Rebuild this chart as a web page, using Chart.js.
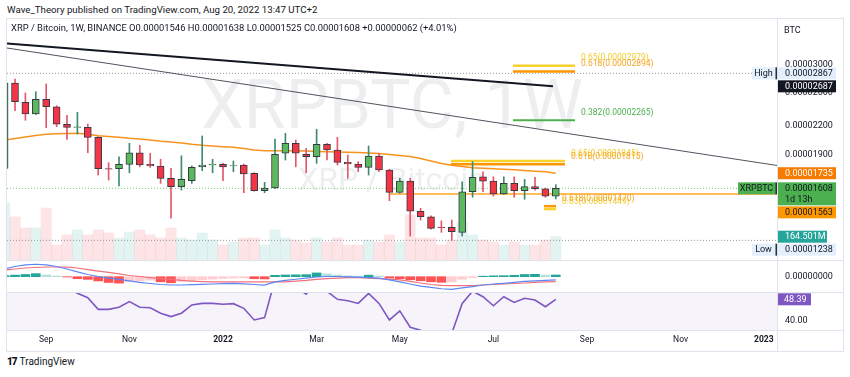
<!DOCTYPE html>
<html><head><meta charset="utf-8">
<script src="https://cdn.jsdelivr.net/npm/chart.js@4.4.1/dist/chart.umd.min.js"></script>
<style>
html,body{margin:0;padding:0;background:#fff;}
body{width:850px;height:377px;position:relative;overflow:hidden;font-family:Roboto,"Liberation Sans",Arial,sans-serif;color:#131722;}
canvas{position:absolute;}
.ln{position:absolute;background:#e0e3eb;z-index:5;}
#pub{position:absolute;left:7px;top:4px;font-size:9.7px;white-space:nowrap;}
#title{position:absolute;left:11px;top:22px;font-size:9.4px;white-space:nowrap;z-index:6;}
#btc{position:absolute;left:784px;top:25px;font-size:9px;}
#logo{position:absolute;left:7px;top:356px;font-size:10px;white-space:nowrap;}
#logo b{font-weight:900;letter-spacing:-1px;margin-right:3px;}
</style></head><body>
<div id="pub">Wave_Theory published on TradingView.com, Aug 20, 2022 13:47 UTC+2</div>
<canvas id="main" width="836" height="242" style="left:7px;top:18px"></canvas>
<canvas id="macd" width="836" height="32" style="left:7px;top:260px"></canvas>
<canvas id="rsi" width="836" height="59" style="left:7px;top:292px"></canvas>
<div id="title"></div>
<div id="btc">BTC</div>
<div class="ln" style="left:6px;top:18px;width:838px;height:1px"></div>
<div class="ln" style="left:6px;top:351px;width:838px;height:1px"></div>
<div class="ln" style="left:6px;top:18px;width:1px;height:334px"></div>
<div class="ln" style="left:843px;top:18px;width:1px;height:334px"></div>
<div class="ln" style="left:777px;top:18px;width:1px;height:334px"></div>
<div class="ln" style="left:7px;top:260px;width:836px;height:1px"></div>
<div class="ln" style="left:7px;top:292px;width:836px;height:1px"></div>
<div class="ln" style="left:7px;top:330px;width:836px;height:1px"></div>
<div id="logo"><b>17</b>TradingView</div>
<script>
// Weekly XRP/BTC candles, first bar = week of 2021-08-09; prices in satoshi (1e-8 BTC)
const open  = [1778,2731,2478,2337,2516,2424,2219,2185,2185,2078,1775,1775,1814,1923,1814,1799,1691,1622,1671,1792,1809,1814,1799,1808,1734,1589,1611,1918,2016,1908,1885,2006,1950,1833,1817,1787,1892,1763,1576,1668,1433,1394,1322,1322,1289,1581,1704,1668,1563,1649,1589,1622,1605,1546];
const high  = [2867,2786,2596,2614,2718,2436,2322,2357,2222,2085,1829,1885,2016,1996,1918,1861,1778,1894,1800,2092,1861,1823,1845,1817,1740,1657,2061,2120,2050,1966,2164,2016,2078,1901,1838,1989,1918,1770,1691,1691,1455,1400,1366,1371,1662,1838,1748,1704,1704,1704,1682,1699,1610,1638];
const low   = [1760,2376,2264,2330,2181,2192,2057,2113,1923,1719,1676,1627,1739,1792,1787,1649,1384,1594,1649,1757,1739,1671,1748,1573,1585,1573,1605,1854,1792,1739,1823,1854,1808,1691,1748,1719,1748,1511,1570,1265,1371,1310,1289,1238,1265,1537,1581,1547,1560,1537,1522,1594,1537,1525];
const close = [2731,2486,2337,2516,2424,2219,2185,2190,2078,1775,1770,1814,1923,1808,1799,1691,1622,1682,1787,1808,1814,1792,1802,1730,1589,1611,1908,2016,1918,1885,2006,1950,1833,1817,1787,1892,1763,1576,1668,1433,1394,1315,1320,1293,1581,1699,1668,1563,1649,1589,1622,1605,1546,1608];
const volume = [402,304,226,226,367,106,177,212,177,212,191,155,198,212,177,155,226,155,141,191,141,106,127,155,155,106,212,155,141,120,155,127,155,106,106,141,127,177,127,318,155,155,106,141,268,177,141,127,106,127,106,106,141,164.501]; // millions
const ema = [2050,2066,2081,2097,2110,2116,2119,2120,2110,2094,2086,2078,2068,2061,2050,2037,2030,2020,2006,1996,1989,1982,1976,1964,1950,1943,1943,1943,1942,1940,1936,1934,1931,1929,1926,1921,1916,1907,1896,1887,1869,1845,1822,1805,1794,1784,1778,1774,1769,1765,1760,1753,1747,1735];
const macd = [45,60,69,73,69,60,45,28,13,1,-8,-16,-25,-34,-40,-46,-49,-49,-47,-45,-43,-41,-39,-42,-46,-49,-31,-22,-15,-8,-2,1,1,-1,-3,-5,-9,-19,-31,-43,-55,-63,-71,-74,-66,-58,-49,-43,-39,-34,-28,-25,-22,-19];
const signal = [39,45,51,54,57,57,56,51,42,33,25,16,7,1,-5,-11,-16,-22,-26,-29,-31,-31,-31,-31,-31,-31,-31,-31,-26,-22,-16,-12,-8,-6,-6,-8,-11,-14,-19,-28,-37,-46,-51,-53,-53,-52,-49,-46,-43,-40,-37,-34,-31,-29];
const hist = [6,9,13,18,10,4,-2,-12,-16,-25,-34,-38,-30,-26,-20,-30,-36,-28,-22,-18,-14,-11,-8,-7,-12,-13,8,10,11,12,22,16,10,5,3,9,4,-8,-12,-18,-24,-30,-33,-30,-15,-6,3,5,6,8,13,14,9,10];
const rsi = [66,60,56,58,55,54,53,50.7,49.0,44.5,44.5,45.3,47.5,45.3,45.1,43.0,41.7,43.0,46.2,46.8,46.8,46.5,46.7,44.9,40.4,41.3,56,60,53,50.4,56,51.5,48.4,47.8,46.8,50.7,46.8,40.4,43.9,37.6,36.4,33,34,35.2,46.8,51.5,49.4,45.9,49.4,47.2,48.8,48.1,45.5,48.39];

const xTickWeeks  = [4,12,21,30,38,47,56,65,73];
const xTickLabels = ['Sep','Nov','2022','Mar','May','Jul','Sep','Nov','2023'];
const yTickValues = [3000,2600,2200,1900,1400];

// drawings (x = bar index, y = price in sat)
const trendBlack = [[0.23,3331],[52.73,2687]];
const trendThin  = [[0.23,3256],[74.27,1804]];
const fibTopSpan = [48.88,54.85], fibTopLevels = [2979,2894,2265], fibTopRatios = ['0.65','0.618','0.382'];
const fibMidSpan = [42.92,53.88], fibMidLevels = [1845,1815], fibMidRatios = ['0.65','0.618'];
const fibLowSpan = [51.87,53.02], fibLowLevels = [1449,1470], fibLowRatios = ['0.65','0.618'];
const supportLevel = 1563, supportStart = 37.06;
const highLevel = 2867, lowLevel = 1238;

const FONT = 'Roboto, "Liberation Sans", Arial, sans-serif';
const xMin = 0.2308, xMax = 74.269;
const yMin = 1121.6, yMax = 3786.3, volMax = 1708;
const fmt = v => (v/1e8).toFixed(8);
const N = open.length;
const up = close.map((c,i)=> c >= open[i]);
const fibColor = r => r==='0.65' ? '#f9d22b' : r==='0.618' ? '#ff9800' : '#4caf50';
const fibText  = r => r==='0.65' ? '#f3cc2f' : r==='0.618' ? '#f5a524' : '#4caf50';

const last = N-1;
const chg = close[last]-close[last-1];
document.getElementById('title').textContent =
  `XRP / Bitcoin, 1W, BINANCE O${fmt(open[last])} H${fmt(high[last])} L${fmt(low[last])} C${fmt(close[last])} +${fmt(chg)} (+${(chg/close[last-1]*100).toFixed(2)}%)`;

const seg = (pts, color, width, dash, order) => ({type:'line', data: pts.map(p=>({x:p[0],y:p[1]})), borderColor:color, borderWidth:width, borderDash:dash||[], pointRadius:0, order: order||8});

const fibSets = [];
[[fibTopSpan,fibTopLevels,fibTopRatios],[fibMidSpan,fibMidLevels,fibMidRatios],[fibLowSpan,fibLowLevels,fibLowRatios]].forEach(([sp,lv,rt])=>{
  lv.forEach((l,k)=> fibSets.push(seg([[sp[0],l],[sp[1],l]], fibColor(rt[k]), rt[k]==='0.382'?2:2.5, null, 3)));
});

function box(ctx,x,y,w,h,bg){ctx.fillStyle=bg;ctx.fillRect(x,y,w,h);}

const mainOverlay = {
  id:'mainOverlay',
  beforeDatasetsDraw(chart){
    const {ctx, chartArea:a} = chart;
    ctx.save();
    ctx.fillStyle='rgba(19,23,34,0.075)';
    ctx.textAlign='center'; ctx.textBaseline='alphabetic';
    ctx.font=`68px ${FONT}`;
    ctx.fillText('XRPBTC, 1W',(a.left+a.right)/2,110);
    ctx.font=`32px ${FONT}`;
    ctx.fillText('XRP / Bitcoin',(a.left+a.right)/2,172);
    ctx.restore();
  },
  afterDatasetsDraw(chart){
    const {ctx, scales:{x:xs,y:ys}} = chart;
    ctx.save();
    ctx.font=`8.5px ${FONT}`; ctx.textAlign='left'; ctx.textBaseline='middle';
    [[fibTopSpan,fibTopLevels,fibTopRatios],[fibMidSpan,fibMidLevels,fibMidRatios],[fibLowSpan,fibLowLevels,fibLowRatios]].forEach(([sp,lv,rt])=>{
      lv.forEach((l,k)=>{
        ctx.fillStyle=fibText(rt[k]);
        ctx.fillText(`${rt[k]}(${fmt(l)})`, xs.getPixelForValue(sp[1])+6, ys.getPixelForValue(l)-7.5);
      });
    });
    ctx.restore();
  },
  afterDraw(chart){
    const {ctx, chartArea:a, scales:{y:ys, vol:vs}} = chart;
    const ax = a.right;
    ctx.save();
    ctx.font=`9px ${FONT}`; ctx.textAlign='left'; ctx.textBaseline='middle';
    ctx.fillStyle='#131722';
    yTickValues.forEach(v=> ctx.fillText(fmt(v), ax+8, ys.getPixelForValue(v)));
    const labels = [
      {y:ys.getPixelForValue(highLevel), lines:[fmt(highLevel)], bg:'#e3effd', fg:'#131722', tag:'High', tagW:25},
      {y:ys.getPixelForValue(trendBlack[1][1]), lines:[fmt(trendBlack[1][1])], bg:'#131722', fg:'#ffffff'},
      {y:ys.getPixelForValue(ema[last]), lines:[fmt(ema[last])], bg:'#f57c00', fg:'#ffffff'},
      {y:ys.getPixelForValue(close[last]), lines:[fmt(close[last]),'1d 13h'], bg:'#4caf50', fg:'#131722', tag:'XRPBTC', tagW:39},
      {y:ys.getPixelForValue(supportLevel), lines:[fmt(supportLevel)], bg:'#ff9800', fg:'#131722'},
      {y:ys.getPixelForValue(lowLevel), lines:[fmt(lowLevel)], bg:'#e3effd', fg:'#131722', tag:'Low', tagW:25},
      {y:vs.getPixelForValue(volume[last]), lines:[volume[last].toFixed(3)+'M'], bg:'#26a69a', fg:'#ffffff', w:49},
    ].sort((p,q)=>p.y-q.y);
    let prev=-1e9;
    labels.forEach(l=>{
      const h = l.lines.length===1 ? 12 : 23;
      const top = Math.max(l.y-6, prev+1);
      box(ctx, ax+1, top, l.w||58, h, l.bg);
      ctx.fillStyle=l.fg;
      l.lines.forEach((t,k)=>ctx.fillText(t, ax+8, top+6.5+k*10.5));
      if(l.tag){
        box(ctx, ax-l.tagW, top, l.tagW-1, 12, l.bg);
        box(ctx, ax-1.5, top, 1.5, 12, '#2a2e39');
        ctx.fillStyle=l.fg; ctx.textAlign='center';
        ctx.fillText(l.tag, ax-l.tagW/2-1, top+6.5);
        ctx.textAlign='left';
      }
      prev = top+h;
    });
    ctx.restore();
  }
};

new Chart(document.getElementById('main'), {
  type:'bar',
  data:{datasets:[
    {type:'bar', yAxisID:'vol', data: volume.map((v,i)=>({x:i,y:v})), backgroundColor: up.map(u=>u?'rgba(38,166,154,0.13)':'rgba(242,54,69,0.13)'), barThickness:10.4, grouped:false, order:20},
    {type:'line', data: ema.map((v,i)=>({x:i,y:v})), borderColor:'#f7931e', borderWidth:1.5, pointRadius:0, order:9},
    seg([[xMin,highLevel],[xMax,highLevel]], '#9598a1', 1, [1,2], 10),
    seg([[xMin,lowLevel],[xMax,lowLevel]], '#9598a1', 1, [1,2], 10),
    seg([[xMin,close[last]],[xMax,close[last]]], '#81c784', 1, [1,2], 10),
    seg([[supportStart,supportLevel],[xMax,supportLevel]], '#ffa726', 1.5, null, 7),
    seg(trendBlack, '#131722', 2, null, 6),
    seg(trendThin, '#50535e', 1, null, 6),
    ...fibSets,
    {type:'bar', data: low.map((l,i)=>({x:i,y:[l,high[i]]})), backgroundColor: up.map(u=>u?'#3e8a6e':'#e4576a'), barThickness:1, grouped:false, order:2},
    {type:'bar', data: open.map((o,i)=>({x:i,y:[o,close[i]]})), backgroundColor: up.map(u=>u?'#5cb85f':'#f23645'), borderColor:'#363a45', borderWidth:1, borderSkipped:false, barThickness:7, grouped:false, order:1},
  ]},
  options:{
    responsive:false, animation:false, devicePixelRatio:1, events:[],
    layout:{padding:{left:0,right:66,top:0,bottom:0}},
    plugins:{legend:{display:false}, tooltip:{enabled:false}},
    scales:{
      x:{type:'linear', min:xMin, max:xMax, offset:false, display:false},
      y:{type:'logarithmic', min:yMin, max:yMax, display:false},
      vol:{type:'linear', min:0, max:volMax, display:false}
    }
  },
  plugins:[mainOverlay]
});

const histColors = hist.map((v,i)=>{
  const p = i>0 ? hist[i-1] : v;
  if (v>=0) return v>=p ? '#26a69a' : '#b2dfdb';
  return v<=p ? '#ff5252' : '#ffcdd2';
});
new Chart(document.getElementById('macd'), {
  type:'bar',
  data:{datasets:[
    {type:'bar', data: hist.map((v,i)=>({x:i,y:v})), backgroundColor: histColors, barThickness:9, grouped:false, order:3},
    {type:'line', data: macd.map((v,i)=>({x:i,y:v})), borderColor:'#5b86f5', borderWidth:1.2, pointRadius:0, order:1},
    {type:'line', data: signal.map((v,i)=>({x:i,y:v})), borderColor:'#f2707a', borderWidth:1.2, pointRadius:0, order:2},
  ]},
  options:{
    responsive:false, animation:false, devicePixelRatio:1, events:[],
    layout:{padding:{left:0,right:66,top:0,bottom:0}},
    plugins:{legend:{display:false}, tooltip:{enabled:false}},
    scales:{ x:{type:'linear', min:xMin, max:xMax, offset:false, display:false}, y:{type:'linear', min:-90, max:98, display:false} }
  },
  plugins:[{id:'macdAxis', afterDraw(chart){
    const {ctx, chartArea:a, scales:{y}} = chart;
    ctx.save(); ctx.font=`9px ${FONT}`; ctx.textBaseline='middle'; ctx.fillStyle='#131722';
    ctx.fillText(fmt(0), a.right+8, y.getPixelForValue(0)); ctx.restore();
  }}]
});

new Chart(document.getElementById('rsi'), {
  type:'line',
  data:{datasets:[
    {data: rsi.map((v,i)=>({x:i,y:v})), borderColor:'#7e57c2', borderWidth:1.6, pointRadius:0}
  ]},
  options:{
    responsive:false, animation:false, devicePixelRatio:1, events:[],
    layout:{padding:{left:0,right:66,top:0,bottom:0}},
    plugins:{legend:{display:false}, tooltip:{enabled:false}},
    scales:{
      x:{type:'linear', min:xMin, max:xMax, offset:false, position:'bottom',
         grid:{display:false, drawTicks:false}, border:{display:false},
         afterBuildTicks: s => { s.ticks = xTickWeeks.map(v=>({value:v})); },
         afterFit: s => { s.height = 21; },
         ticks:{autoSkip:false, maxRotation:0, padding:5, color:'#131722',
           font: c => ({family:FONT, size:8.5, weight: /^\d{4}$/.test(xTickLabels[c.index]||'') ? 'bold':'normal'}),
           callback: (v,i) => xTickLabels[i]}},
      y:{type:'linear', min:36.52, max:51.21, display:false}
    }
  },
  plugins:[{id:'rsiDeco',
    beforeDatasetsDraw(chart){
      const {ctx, chartArea:a, scales:{y}} = chart;
      const t = Math.max(a.top, y.getPixelForValue(70)), b = Math.min(a.bottom, y.getPixelForValue(30));
      ctx.save(); ctx.fillStyle='rgba(126,87,194,0.07)'; ctx.fillRect(a.left,t,a.right-a.left,b-t); ctx.restore();
    },
    afterDraw(chart){
      const {ctx, chartArea:a, scales:{y}} = chart;
      ctx.save(); ctx.font=`9px ${FONT}`; ctx.textBaseline='middle';
      ctx.fillStyle='#131722'; ctx.fillText('40.00', a.right+8, y.getPixelForValue(40));
      const py = y.getPixelForValue(rsi[last]);
      ctx.fillStyle='#7e57c2'; ctx.fillRect(a.right+1, py-6, 33, 12);
      ctx.fillStyle='#ffffff'; ctx.fillText(rsi[last].toFixed(2), a.right+7, py+0.5);
      ctx.restore();
    }}]
});
</script>
</body></html>
